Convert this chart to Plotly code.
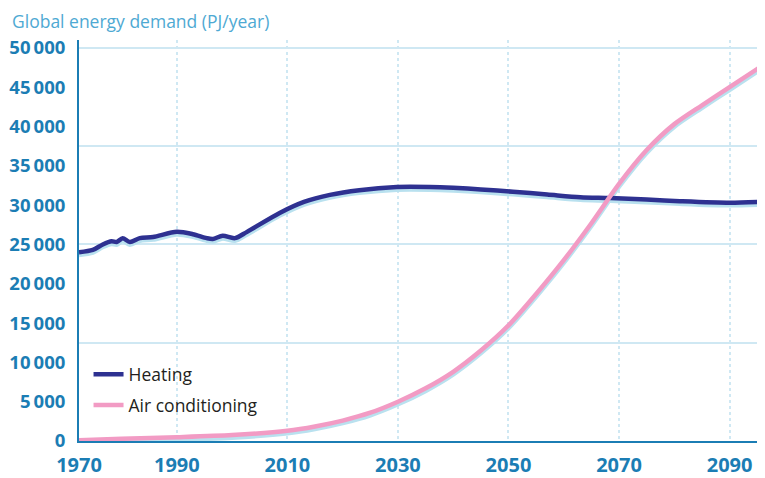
import plotly.graph_objects as go

# values
heat_years = [1972.3, 1974.8, 1976.6, 1978.2, 1979.1, 1980.2, 1981.5, 1983.3, 1985.7,
              1990, 1992.9, 1995.4, 1996.5, 1998.3, 2000.5, 2002.7, 2008.6,
              2013, 2017.7, 2023, 2029.8, 2035.8, 2040, 2045, 2050.8, 2057, 2063,
              2068.4, 2075, 2081, 2090, 2095.3]
heating = [24000, 24300, 25000, 25400, 25300, 25800, 25300, 25800, 25950,
           26600, 26300, 25800, 25700, 26100, 25800, 26600, 29000,
           30400, 31300, 31900, 32300, 32300, 32200, 32000, 31700, 31350, 31000,
           30900, 30700, 30500, 30300, 30400]

ac_years = [1972.3, 1980, 1990, 2000, 2010, 2015, 2020, 2025, 2030, 2035, 2040, 2045,
            2050, 2055, 2060, 2065, 2070, 2075, 2080, 2085, 2090, 2095.3]
air_conditioning = [100, 280, 480, 750, 1300, 1850, 2600, 3600, 5000, 6700, 8800, 11500,
                    14700, 18700, 23000, 27700, 32700, 37000, 40300, 42700, 45000, 47450]

x_ticks = [1972.3, 1990, 2010, 2030, 2050, 2070, 2090]
x_labels = ["1970", "1990", "2010", "2030", "2050", "2070", "2090"]
y_ticks = [0, 5000, 10000, 15000, 20000, 25000, 30000, 35000, 40000, 45000, 50000]
y_labels = [f"{v:,}".replace(",", "\u2009") for v in y_ticks]

NAVY = "#2e3191"
PINK = "#f29bc4"
SHADOW = "#b9e1ef"
AXIS = "#1b7db4"
GRID = "#cfe8f3"

fig = go.Figure()

# light blue shadow under each line
for xs, ys in [(heat_years, heating), (ac_years, air_conditioning)]:
    fig.add_trace(go.Scatter(x=xs, y=[v - 300 for v in ys], mode="lines",
                             line=dict(color=SHADOW, width=5, shape="spline", smoothing=0.8),
                             showlegend=False, hoverinfo="skip"))

fig.add_trace(go.Scatter(x=heat_years, y=heating, mode="lines", name="Heating",
                         legendgroup="heat",
                         line=dict(color=NAVY, width=4.5, shape="spline", smoothing=0.8)))
fig.add_trace(go.Scatter(x=ac_years, y=air_conditioning, mode="lines", name="Air conditioning",
                         legendgroup="ac",
                         line=dict(color=PINK, width=4.5, shape="spline", smoothing=0.8)))

# horizontal grid every 12 500 on an overlay axis
fig.add_trace(go.Scatter(x=[None], y=[None], yaxis="y2", showlegend=False))

# page body adds an 8px offset, so the figure is a bit smaller than the window
fig.update_layout(
    width=757, height=470,
    margin=dict(l=71, r=5, t=32, b=37),
    paper_bgcolor="white", plot_bgcolor="white",
    font=dict(family="Open Sans", color=AXIS),
    xaxis=dict(range=[1972.3, 2095.5], tickvals=x_ticks, ticktext=x_labels,
               showgrid=True, gridcolor=GRID, griddash="dot", gridwidth=1.5,
               showline=True, linecolor=AXIS, linewidth=2, zeroline=False,
               ticks="", automargin=False, ticklabelstandoff=5,
               tickfont=dict(size=20, color=AXIS, family="Open Sans", weight="bold")),
    yaxis=dict(range=[0, 51000], tickvals=y_ticks, ticktext=y_labels,
               showgrid=False, showline=True, linecolor=AXIS, linewidth=2, zeroline=False,
               ticks="", ticklabelstandoff=8, automargin=False,
               tickfont=dict(size=18.5, color=AXIS, family="Open Sans", weight="bold")),
    yaxis2=dict(range=[0, 51000], overlaying="y", dtick=12500, tick0=0,
                showgrid=True, gridcolor=GRID, gridwidth=1.5, automargin=False,
                showticklabels=False, zeroline=False, showline=False),
    legend=dict(x=0.014, y=0.211, xanchor="left", yanchor="top",
                bgcolor="rgba(0,0,0,0)", font=dict(size=17.5, color="#231f20"),
                itemwidth=30, tracegroupgap=5),
    annotations=[dict(text="Global energy demand (PJ/year)", xref="paper", yref="paper",
                      x=-0.101, y=1.082, xanchor="left", yanchor="top", showarrow=False,
                      font=dict(size=17.5, color="#4ea9d3", family="Open Sans"))],
)

fig.write_html("out.html")
